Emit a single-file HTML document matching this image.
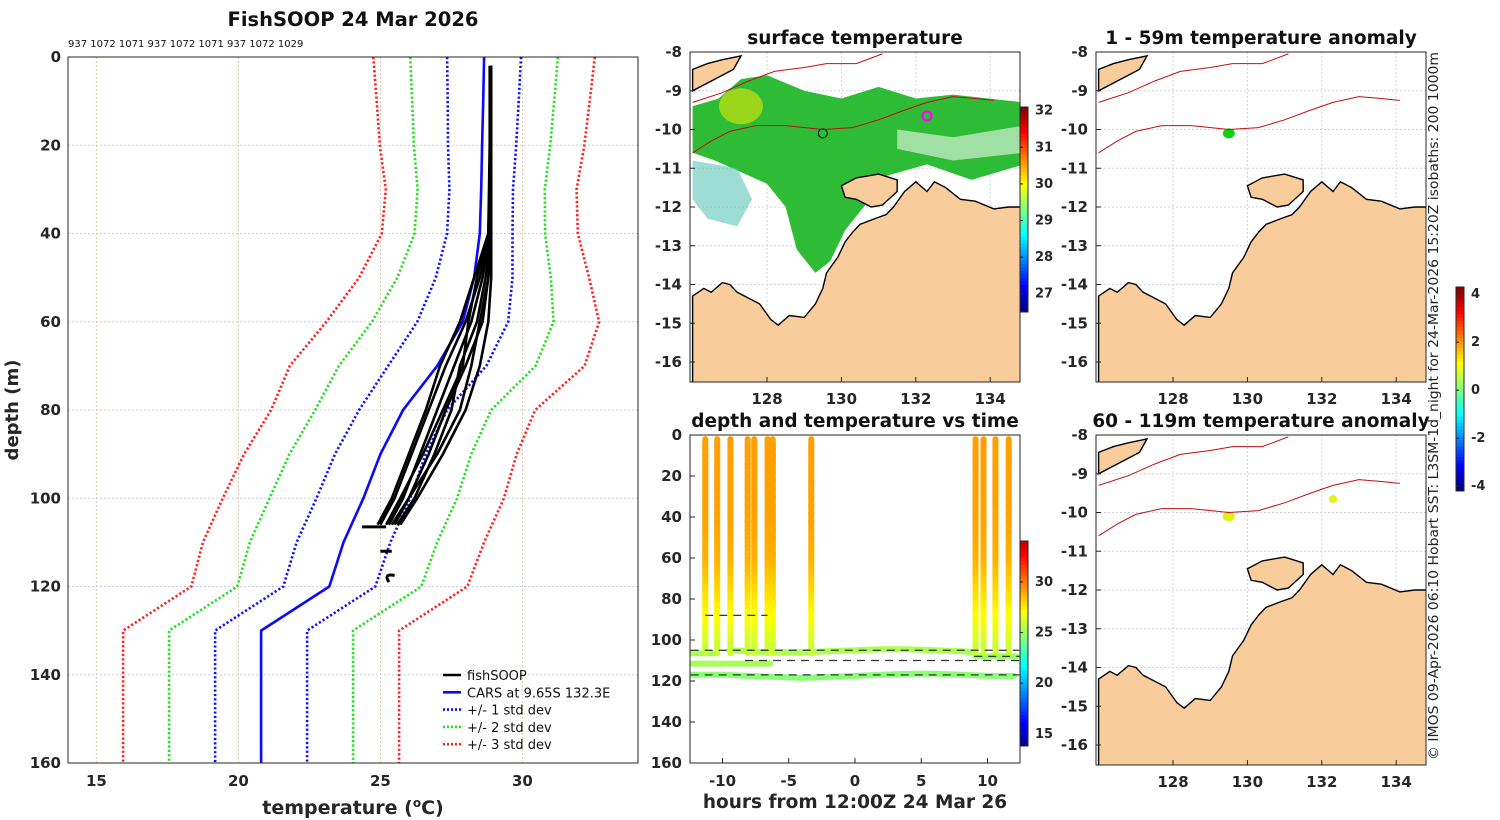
<!DOCTYPE html>
<html><head><meta charset="utf-8"><style>
body{margin:0;background:#fff}
svg{display:block;font-family:"DejaVu Sans","Liberation Sans",sans-serif}
.t{font-weight:bold;font-size:15px;fill:#262626}
.ti{font-weight:bold;font-size:18.5px;fill:#111}
</style></head><body>
<svg id="fig" width="1500" height="820" viewBox="0 0 1500 820">
<g id="g-left"></g>
<g id="g-sst"></g>
<g id="g-time"></g>
<g id="g-a1"></g>
<g id="g-a2"></g>
<text x="1438" y="406" transform="rotate(-90 1438 406)" text-anchor="middle" font-size="13" fill="#222" textLength="708" lengthAdjust="spacingAndGlyphs">© IMOS 09-Apr-2026 06:10 Hobart SST: L3SM-1d_night for 24-Mar-2026 15:20Z isobaths: 200  1000m</text>
</svg>
<script>
// ---- data ----
const carsDepth=[0,10,20,30,40,50,60,70,80,90,100,110,120,130,160];
const carsMean=[28.65,28.62,28.58,28.55,28.5,28.3,27.9,27.0,25.8,25.0,24.4,23.7,23.2,20.8,20.8];
const carsStd=[1.3,1.25,1.2,1.12,1.15,1.35,1.6,1.73,1.55,1.6,1.65,1.65,1.62,1.62,1.62];
const fishDepth=[2,20,40,50,60,70,80,90,100,106];
const fishP1=[28.9,28.9,28.85,28.6,28.2,27.6,27.0,26.4,25.8,25.3];
const fishP2=[28.9,28.9,28.9,28.8,28.6,28.0,27.3,26.7,26.0,25.5];
const fishP3=[28.9,28.9,28.85,28.5,28.0,27.3,26.7,26.1,25.5,25.0];
const fishP4=[28.9,28.9,28.9,28.9,28.8,28.5,28.0,27.2,26.3,25.7];
const fishP5=[28.9,28.9,28.8,28.3,27.8,27.1,26.6,26.0,25.4,24.9];
const fishP6=[28.9,28.9,28.9,28.7,28.4,27.8,27.5,26.9,26.2,25.6];
const fishP7=[28.85,28.85,28.8,28.4,28.1,27.9,27.2,26.5,25.7,25.2];
const fishP8=[28.9,28.9,28.9,28.8,28.5,28.2,27.8,27.0,26.0,25.4];
const tempTicks=[15,20,25,30];
const depthTicks=[0,20,40,60,80,100,120,140,160];
const castHours=[-11.3,-10.4,-9.4,-8.1,-7.6,-6.6,-6.2,-3.3,9.1,9.7,10.6,11.6];
const castProfDepth=[0,40,60,80,100,106];
const castProfTemp=[29.2,29.1,28.8,27.6,26.2,25.6];
const traceAH=[-9.5,-8,-6,-4,-2,0,2,4,6,8,9.1];
const traceAD=[105,105.5,106,106,105.5,105,104.5,104.5,105,105.5,106];
const traceCH=[-12.4,-10,-8,-6,-4,-2,0,2,4,6,8,10,12];
const traceCD=[117,117,117.5,118,118.5,118,117.5,117,116.5,116.5,117,117.5,117.5];
const hourTicks=[-10,-5,0,5,10];
const lonTicks=[128,130,132,134];
const latTicks=[-8,-9,-10,-11,-12,-13,-14,-15,-16];
const sstTicks=[27,28,29,30,31,32];
const timeCbTicks=[15,20,25,30];
const anomTicks=[-4,-2,0,2,4];

const NS='http://www.w3.org/2000/svg';
function el(p,tag,attrs,txt){const e=document.createElementNS(NS,tag);for(const k in attrs)e.setAttribute(k,attrs[k]);if(txt!==undefined)e.textContent=txt;p.appendChild(e);return e;}
function jet(x){x=Math.max(0,Math.min(1,x));const c=v=>Math.round(255*Math.max(0,Math.min(1,v)));
return `rgb(${c(1.5-Math.abs(4*x-3))},${c(1.5-Math.abs(4*x-2))},${c(1.5-Math.abs(4*x-1))})`;}
function pts(xs,ys,fx,fy){return xs.map((v,i)=>fx(v).toFixed(1)+','+fy(ys[i]).toFixed(1)).join(' ');}

// ---- left profile panel ----
const L=document.getElementById('g-left');
const tx=t=>68+(t-14)*28.4, dy=d=>57+d*4.4125;
el(L,'rect',{x:68,y:57,width:570,height:706,fill:'#fff'});
tempTicks.forEach(t=>{const g=el(L,'line',{x1:tx(t),x2:tx(t),y1:57,y2:763,stroke:'#e6c6a8','stroke-dasharray':'2,2','stroke-width':1});

const l=el(L,'text',{x:tx(t),y:786,'text-anchor':'middle',class:'t'},t);});
depthTicks.forEach(d=>{const g=el(L,'line',{x1:68,x2:638,y1:dy(d),y2:dy(d),stroke:'#c8cce6','stroke-dasharray':'2,2','stroke-width':1});

const l=el(L,'text',{x:61,y:dy(d)+5,'text-anchor':'end',class:'t'},d);});
[[3,'#ff2020'],[2,'#22e022'],[1,'#1010ff']].forEach(([k,c])=>{[-1,1].forEach(s=>{
const p=el(L,'polyline',{points:pts(carsMean.map((m,i)=>m+s*k*carsStd[i]),carsDepth,tx,dy),fill:'none',stroke:c,'stroke-width':2.6,'stroke-dasharray':'2.2,2.2'});
});});
const cm=el(L,'polyline',{points:pts(carsMean,carsDepth,tx,dy),fill:'none',stroke:'#0a0aff','stroke-width':2.6});

[fishP1,fishP2,fishP3,fishP4,fishP5,fishP6,fishP7,fishP8].forEach(p=>{
const f=el(L,'polyline',{points:pts(p,fishDepth,tx,dy),fill:'none',stroke:'#000','stroke-width':2.6,'stroke-linejoin':'round'});
});
el(L,'line',{x1:tx(24.35),x2:tx(25.2),y1:dy(106.5),y2:dy(106.5),stroke:'#000','stroke-width':3});
el(L,'path',{d:`M${tx(25.0)},${dy(112)} L${tx(25.4)},${dy(112)} M${tx(25.5)},${dy(117.5)} Q${tx(25.1)},${dy(117)} ${tx(25.3)},${dy(119)}`,stroke:'#000','stroke-width':3,fill:'none'});
el(L,'rect',{x:68,y:57,width:570,height:706,fill:'none',stroke:'#262626','stroke-width':1});
el(L,'text',{x:353,y:26,'text-anchor':'middle',class:'ti',style:'font-size:19.5px'},'FishSOOP 24 Mar 2026');
el(L,'text',{x:68,y:47,'font-size':10,fill:'#111'},'937 1072 1071 937 1072 1071 937 1072 1029');
const xl=el(L,'text',{x:353,y:814,'text-anchor':'middle',class:'t',style:'font-size:19px'});
xl.innerHTML='temperature (<tspan dy="-7" style="font-size:12px">o</tspan><tspan dy="7">C)</tspan>';
const yl=el(L,'text',{x:18,y:410,'text-anchor':'middle',class:'t',style:'font-size:18px',transform:'rotate(-90 18 410)'},'depth (m)');
const legend=[['fishSOOP','#000',null],['CARS at 9.65S 132.3E','#0a0aff',null],['+/- 1 std dev','#1010ff','2,2'],['+/- 2 std dev','#22e022','2,2'],['+/- 3 std dev','#ff2020','2,2']];
legend.forEach((e,i)=>{const y=675+i*17.3;const g=el(L,'g',{});
const a={x1:443,x2:461,y1:y,y2:y,stroke:e[1],'stroke-width':2.6};if(e[2])a['stroke-dasharray']=e[2];el(g,'line',a);
el(g,'text',{x:467,y:y+5,'font-size':13,fill:'#111'},e[0]);});

// ---- map helpers ----
const coast=[[126,-14.3],[126.3,-14.1],[126.5,-14.2],[126.8,-13.95],[127,-14.0],[127.2,-14.2],[127.4,-14.3],[127.8,-14.5],[128.1,-14.9],[128.3,-15.05],[128.6,-14.8],[129.0,-14.85],[129.3,-14.5],[129.5,-14.1],[129.6,-13.7],[129.9,-13.3],[130.1,-12.9],[130.3,-12.65],[130.5,-12.45],[130.9,-12.3],[131.2,-12.2],[131.4,-12.0],[131.7,-11.6],[132.0,-11.35],[132.3,-11.6],[132.5,-11.35],[132.8,-11.5],[133.2,-11.8],[133.6,-11.85],[134.1,-12.05],[134.5,-12.0],[134.9,-12.0],[134.9,-16.6],[126,-16.6]];
const melville=[[130.0,-11.45],[130.4,-11.25],[131.0,-11.15],[131.5,-11.3],[131.5,-11.6],[131.1,-11.95],[130.8,-12.0],[130.4,-11.8],[130.1,-11.75]];
const timor=[[126,-8.45],[126.4,-8.3],[126.8,-8.2],[127.3,-8.1],[127.1,-8.45],[126.6,-8.7],[126.0,-9.0]];
const iso200=[[126,-10.6],[126.5,-10.3],[127,-10.05],[127.7,-9.9],[128.5,-9.9],[129.5,-10.0],[130.3,-9.95],[131,-9.75],[131.7,-9.5],[132.3,-9.3],[133,-9.15],[133.6,-9.2],[134.1,-9.25]];
const iso1000=[[126,-9.3],[126.8,-9.05],[127.5,-8.75],[128.2,-8.5],[129,-8.4],[129.6,-8.3],[130.4,-8.3],[131.1,-8.05]];
function drawMap(G,x0,y0,title,ty,tickY,showLon){
 const X=lo=>x0+(lo-128)*37.2+77, Y=la=>y0+(-8-la)*38.75;
 el(G,'rect',{x:x0,y:y0,width:330,height:330,fill:'#fff'});
 lonTicks.forEach(l=>el(G,'line',{x1:X(l),x2:X(l),y1:y0,y2:y0+330,stroke:'#cfd2ea','stroke-dasharray':'2,2'}));
 latTicks.forEach(l=>el(G,'line',{x1:x0,x2:x0+330,y1:Y(l),y2:Y(l),stroke:'#cfd2ea','stroke-dasharray':'2,2'}));
 const cp='clip'+x0+y0;const cl=el(G,'clipPath',{id:cp});el(cl,'rect',{x:x0,y:y0,width:330,height:330});
 const inner=el(G,'g',{'clip-path':`url(#${cp})`});
 return {X,Y,inner,finish:()=>{
  const pl=a=>a.map(p=>X(p[0]).toFixed(1)+','+Y(p[1]).toFixed(1)).join(' ');
  [iso1000,iso200].forEach(a=>{const s=el(inner,'polyline',{points:pl(a),fill:'none',stroke:'#c01010','stroke-width':1});});
  [coast,melville,timor].forEach(a=>{const s=el(inner,'polygon',{points:pl(a),fill:'#f9cc9c',stroke:'#000','stroke-width':1.4});});
  el(G,'rect',{x:x0,y:y0,width:330,height:330,fill:'none',stroke:'#262626'});
  el(G,'text',{x:x0+165,y:ty,'text-anchor':'middle',class:'ti'},title);
  latTicks.forEach(l=>{el(G,'line',{x1:x0,x2:x0+5,y1:Y(l),y2:Y(l),stroke:'#262626'});const t=el(G,'text',{x:x0-8,y:Y(l)+5,'text-anchor':'end',class:'t'},l);});
  if(showLon)lonTicks.forEach(l=>{el(G,'line',{x1:X(l),x2:X(l),y1:y0+330,y2:y0+325,stroke:'#262626'});const t=el(G,'text',{x:X(l),y:y0+352,'text-anchor':'middle',class:'t'},l);});
 }};
}
function colorbar(G,x,yTop,yBot,vTop,vBot,ticks,cmap){
 const g=el(G,'g',{});
 const n=60,h=(yBot-yTop)/n;
 for(let i=0;i<n;i++)el(g,'rect',{x:x,y:yTop+i*h,width:8,height:h+0.5,fill:cmap(1-(i+0.5)/n)});
 el(g,'rect',{x:x,y:yTop,width:8,height:yBot-yTop,fill:'none',stroke:'#262626'});
 ticks.forEach(v=>{const y=yTop+(vTop-v)/(vTop-vBot)*(yBot-yTop);el(g,'line',{x1:x,x2:x+3,y1:y,y2:y,stroke:'#262626'});el(g,'text',{x:x+15,y:y+4,'font-size':13,'font-weight':'bold',fill:'#262626'},v);});
}

// ---- SST map ----
const S=document.getElementById('g-sst');
const m1=drawMap(S,690,52,'surface temperature',44,0,true);
const P=a=>a.map(p=>m1.X(p[0]).toFixed(1)+','+m1.Y(p[1]).toFixed(1)).join(' ');
const sstMain=[[127.3,-8.7],[128,-8.6],[129,-9.0],[130,-9.2],[131,-8.9],[132,-9.2],[133,-9.1],[134.9,-9.3],[134.9,-10.9],[133.5,-11.3],[132.3,-10.9],[131.2,-11.2],[130.6,-12.0],[130.1,-12.6],[129.7,-13.4],[129.3,-13.7],[128.8,-13.1],[128.5,-12.0],[128.0,-11.4],[127.3,-11.1],[126.6,-10.8],[126,-10.6],[126,-9.4],[126.7,-9.2]];
el(m1.inner,'polygon',{points:P(sstMain),fill:'#2ebb35'});
el(m1.inner,'polygon',{points:P([[131.5,-10.0],[133,-10.2],[134.9,-9.9],[134.9,-10.6],[133,-10.8],[131.5,-10.5]]),fill:'#fff',opacity:0.55});
el(m1.inner,'polygon',{points:P([[126.0,-10.8],[127.2,-11.0],[127.6,-11.8],[127.2,-12.5],[126.4,-12.3],[126,-11.8]]),fill:'#5cc7b8',opacity:0.6});
el(m1.inner,'ellipse',{cx:m1.X(127.3),cy:m1.Y(-9.4),rx:22,ry:18,fill:'#9bd61a'});
el(m1.inner,'circle',{cx:m1.X(129.5),cy:m1.Y(-10.1),r:4.5,fill:'none',stroke:'#000'});
el(m1.inner,'circle',{cx:m1.X(132.3),cy:m1.Y(-9.65),r:4.5,fill:'none',stroke:'#ff00ff','stroke-width':2.2});
m1.finish();
colorbar(S,1020,107,312,32.1,26.5,sstTicks,jet);

// ---- anomaly maps ----
const A1=document.getElementById('g-a1'),A2=document.getElementById('g-a2');
const m2=drawMap(A1,1096,52,'1 - 59m temperature anomaly',44,0,true);
el(m2.inner,'ellipse',{cx:m2.X(129.5),cy:m2.Y(-10.1),rx:6,ry:5,fill:'#10d010'});
m2.finish();
const m3=drawMap(A2,1096,435,'60 - 119m temperature anomaly',427,0,true);
el(m3.inner,'ellipse',{cx:m3.X(129.5),cy:m3.Y(-10.1),rx:6,ry:5,fill:'#e0f010'});
el(m3.inner,'circle',{cx:m3.X(132.3),cy:m3.Y(-9.65),r:4,fill:'#e8f010'});
m3.finish();
colorbar(A1,1456,287,491,4.3,-4.2,anomTicks,jet);

// ---- depth vs time ----
const T=document.getElementById('g-time');
const hx=h=>855+h*13.25, ty2=d=>435+d*2.05;
const tc=v=>jet((v-13.8)/(34.05-13.8)*0.92+0.02);
el(T,'rect',{x:690,y:435,width:330,height:328,fill:'#fff'});
const tcp=el(T,'clipPath',{id:'tclip'});el(tcp,'rect',{x:690,y:435,width:330,height:328});
const TI=el(T,'g',{'clip-path':'url(#tclip)'});
function interp(d){for(let i=1;i<castProfDepth.length;i++){if(d<=castProfDepth[i]){const f=(d-castProfDepth[i-1])/(castProfDepth[i]-castProfDepth[i-1]);return castProfTemp[i-1]+f*(castProfTemp[i]-castProfTemp[i-1]);}}return castProfTemp[castProfTemp.length-1];}
function trace(hs,ds,c){const p=el(TI,'polyline',{points:pts(hs,ds,hx,ty2),fill:'none',stroke:c,'stroke-width':6,'stroke-linejoin':'round','stroke-linecap':'round'});}
trace(traceCH,traceCD,tc(24.6));
trace([-12.4,-6.4],[111.5,111.5],tc(25.2));
trace([-12.4,-10.4],[106.5,106.5],tc(25.2));
trace(traceAH,traceAD,tc(25.3));
trace([9.1,10,11,12.2],[108,108,108,108],tc(24.9));
castHours.forEach(h=>{const g=el(TI,'g',{});
 for(let d=2;d<106;d+=4){el(g,'line',{x1:hx(h),x2:hx(h),y1:ty2(d),y2:ty2(d+4.5),stroke:tc(interp(d)),'stroke-width':6,'stroke-linecap':'round'});}});
[[[-11.3,-6.6],88],[[-12.4,12.4],105],[[-8.3,12.4],110],[[-12.4,12.4],117],[[9.0,12.4],108]].forEach(([hr,d])=>{
 const l=el(TI,'line',{x1:hx(hr[0]),x2:hx(hr[1]),y1:ty2(d),y2:ty2(d),stroke:'#333','stroke-width':1.2,'stroke-dasharray':'8,6'});});
el(T,'rect',{x:690,y:435,width:330,height:328,fill:'none',stroke:'#262626'});
el(T,'text',{x:855,y:427,'text-anchor':'middle',class:'ti'},'depth and temperature vs time');
depthTicks.forEach(d=>{el(T,'line',{x1:690,x2:695,y1:ty2(d),y2:ty2(d),stroke:'#262626'});const t=el(T,'text',{x:682,y:ty2(d)+5,'text-anchor':'end',class:'t'},d);});
hourTicks.forEach(h=>{el(T,'line',{x1:hx(h),x2:hx(h),y1:763,y2:758,stroke:'#262626'});const t=el(T,'text',{x:hx(h),y:786,'text-anchor':'middle',class:'t'},h);});
const hl=el(T,'text',{x:855,y:808,'text-anchor':'middle',class:'t',style:'font-size:18.5px'},'hours from 12:00Z 24 Mar 26');
colorbar(T,1020,541,746,34.05,13.8,timeCbTicks,x=>jet(x*0.92+0.02));
</script>
</body></html>
